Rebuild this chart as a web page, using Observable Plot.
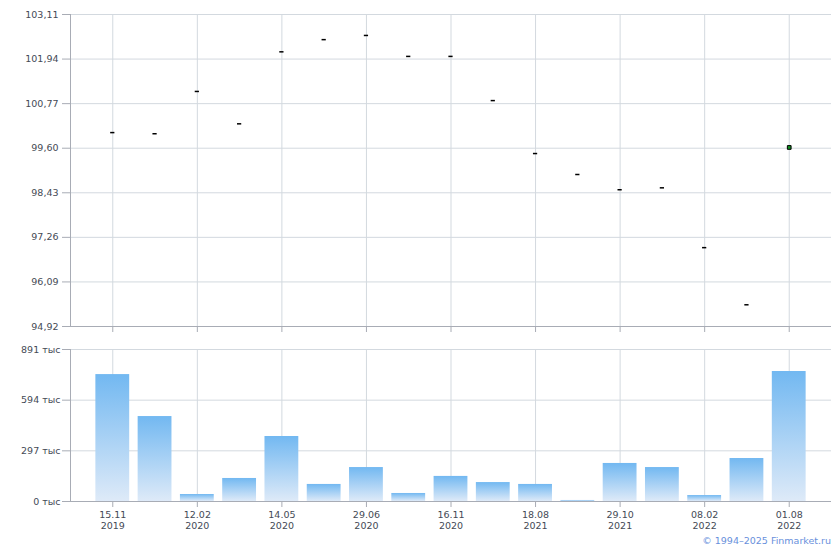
<!DOCTYPE html>
<html><head><meta charset="utf-8">
<script src="https://cdn.jsdelivr.net/npm/d3@7"></script>
<script src="https://cdn.jsdelivr.net/npm/@observablehq/plot@0.6"></script>
<style>
body{margin:0;background:#fff;font-family:"DejaVu Sans",Verdana,sans-serif;}
#wrap{width:840px;}
#wrap svg{display:block;}
.caption{width:831px;text-align:right;font-size:9.5px;color:#6890dc;margin-top:2px;}
</style></head><body><div id="wrap"></div>
<script>
const dateLabels = ["15.11","","12.02","","14.05","","29.06","","16.11","","18.08","","29.10","","08.02","","01.08"];
const yearLabels = ["2019","","2020","","2020","","2020","","2020","","2021","","2021","","2022","","2022"];
const prices = [100.01, 99.98, 101.09, 100.24, 102.13, 102.45, 102.56, 102.01, 102.01, 100.85, 99.46, 98.91, 98.51, 98.56, 96.99, 95.49, 99.62];
const volumes = [744, 498, 41, 135, 381, 100, 199, 47, 147, 111, 100, 6, 223, 199, 35, 252, 762]; // тыс
const priceTicks = [94.92, 96.09, 97.26, 98.43, 99.60, 100.77, 101.94, 103.11];
const volumeTicks = [0, 297, 594, 891];

const rows = prices.map((p, i) => ({i, price: p, volume: volumes[i]}));
const labeled = rows.filter(d => dateLabels[d.i] !== "").map(d => d.i);
const gridColor = "#d3d9df";
const axisColor = "#a8acb5";
const textColor = "#444a55";
const style = {fontFamily: "DejaVu Sans, sans-serif", fontSize: "9.5px", background: "white", overflow: "visible"};

const topPlot = Plot.plot({
  width: 840, height: 336, marginTop: 14, marginBottom: 10, marginLeft: 70, marginRight: 9,
  style,
  x: {type: "linear", domain: [-1, 17], axis: null},
  y: {domain: [94.92, 103.11], axis: null},
  marks: [
    Plot.gridY(priceTicks, {stroke: gridColor, strokeOpacity: 1}),
    Plot.gridX(labeled, {stroke: gridColor, strokeOpacity: 1}),
    Plot.axisY(priceTicks, {label: null, tickFormat: d => d.toFixed(2).replace(".", ","), tickSize: 8, tickPadding: 4, stroke: axisColor, fill: textColor}),
    Plot.axisX(labeled, {label: null, tickFormat: () => "", tickSize: 6, stroke: axisColor}),
    Plot.ruleX([-1], {stroke: axisColor}),
    Plot.ruleY([94.92], {stroke: axisColor}),
    Plot.ruleY(rows.slice(0, -1), {y: "price", x1: d => d.i - 0.05, x2: d => d.i + 0.05, stroke: "#000", strokeWidth: 1.5}),
    Plot.dot(rows.slice(-1), {x: "i", y: "price", symbol: "square", r: 2.1, fill: "#109020", stroke: "#000", strokeWidth: 1})
  ]
});

const bottomPlot = Plot.plot({
  width: 840, height: 197, marginTop: 13, marginBottom: 32, marginLeft: 70, marginRight: 9,
  style,
  x: {type: "linear", domain: [-1, 17], axis: null},
  y: {domain: [0, 891], axis: null},
  marks: [
    Plot.gridY(volumeTicks, {stroke: gridColor, strokeOpacity: 1}),
    Plot.gridX(labeled, {stroke: gridColor, strokeOpacity: 1}),
    Plot.rectY(rows, {x1: d => d.i - 0.4, x2: d => d.i + 0.4, y: "volume", fill: "url(#volGrad)", inset: 0}),
    Plot.axisY(volumeTicks, {label: null, tickFormat: d => d + " тыс", tickSize: 8, tickPadding: 2, stroke: axisColor, fill: textColor}),
    Plot.axisX(labeled, {label: null, tickFormat: i => dateLabels[i] + "\n" + yearLabels[i], tickSize: 6, tickPadding: 2, lineHeight: 1.2, stroke: axisColor, fill: textColor}),
    Plot.ruleX([-1], {stroke: axisColor}),
    Plot.ruleY([0], {stroke: axisColor})
  ]
});

d3.select(bottomPlot).insert("defs", ":first-child").html(
  '<linearGradient id="volGrad" x1="0" y1="0" x2="0" y2="1">' +
  '<stop offset="0" stop-color="#72b8f1"/><stop offset="1" stop-color="#deeaf8"/></linearGradient>');

const wrap = document.getElementById("wrap");
wrap.appendChild(topPlot);
wrap.appendChild(bottomPlot);
const cap = document.createElement("div");
cap.className = "caption";
cap.textContent = "© 1994–2025 Finmarket.ru";
wrap.appendChild(cap);
</script>
</body></html>
